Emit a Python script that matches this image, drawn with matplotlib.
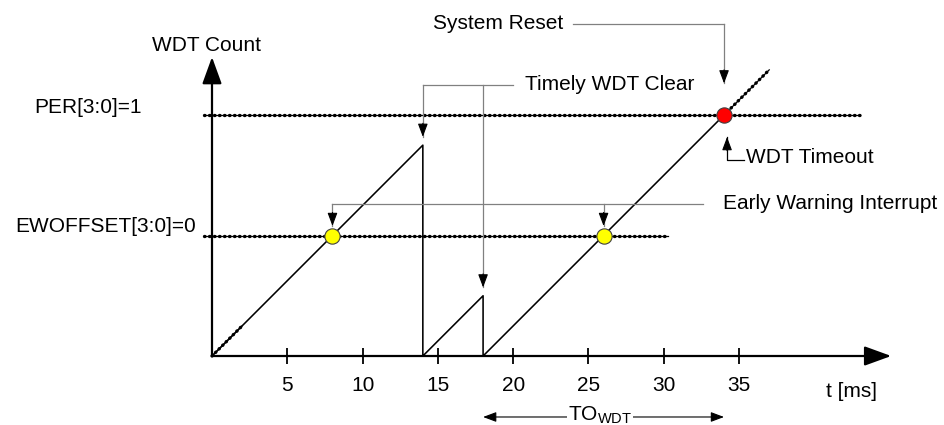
import matplotlib
matplotlib.use("Agg")
import matplotlib.pyplot as plt

# ----------------------------------------------------------------------------
# Data (t in ms, count in "ms worth" of WDT ticks, so the ramp slope is 1)
# ----------------------------------------------------------------------------
saw_t      = [0, 14, 14, 18, 18, 34]
saw_count  = [0, 14, 0, 4, 0, 16]
start_t    = [0, 2]          # thick dotted start of first ramp
start_cnt  = [0, 2]
over_t     = [34, 37]        # count keeps going past the timeout
over_cnt   = [16, 19]

PER_LEVEL  = 16
EW_LEVEL   = 8
per_span   = [-0.5, 43.0]
ew_span    = [-0.5, 30.3]

clear_t    = [14, 18]
clear_peak = [14, 4]
ew_hit_t   = [8, 26]
timeout_t  = 34
to_start   = 18

x_ticks    = [5, 10, 15, 20, 25, 30, 35]
x_end      = 45.1
y_end      = 19.85

# ----------------------------------------------------------------------------
plt.rcParams["font.family"] = ["Liberation Sans", "DejaVu Sans"]
plt.rcParams["mathtext.fontset"] = "custom"
plt.rcParams["mathtext.rm"] = "Liberation Sans"
FS = 15

PX = 15.06      # pixels per ms (both axes, 1:1)
fig = plt.figure(figsize=(9.45, 4.25), dpi=100)
ax = fig.add_axes([0, 0, 1, 1])
ax.set_xlim(-212 / PX, (945 - 212) / PX)
ax.set_ylim(-69 / PX, (425 - 69) / PX)
ax.axis("off")

dots = dict(color="black", lw=2.4, linestyle=(0, (0.15, 1.35)),
            dash_capstyle="round")
lead = dict(color="#808080", lw=0.9)


def dotted(xs, ys):
    # thin line with round beads on it, like the original drawing
    ax.plot(xs, ys, color="black", lw=0.9)
    ax.plot(xs, ys, **dots)


def head(x, y, dx=0.0, dy=0.9, color="black"):
    # small filled arrowhead pointing at (x, y), coming from (x+dx, y+dy)
    ax.annotate("", xy=(x, y), xytext=(x + dx, y + dy),
                arrowprops=dict(arrowstyle="-|>,head_length=0.8,head_width=0.3",
                                color=color, lw=0.8, shrinkA=0, shrinkB=0))


# --- axes with arrows -------------------------------------------------------
big = "-|>,head_length=1.65,head_width=0.6"
ax.annotate("", xy=(x_end, 0), xytext=(0, 0),
            arrowprops=dict(arrowstyle=big, color="black", lw=1.6,
                            shrinkA=0, shrinkB=0))
ax.annotate("", xy=(0, y_end), xytext=(0, 0),
            arrowprops=dict(arrowstyle=big, color="black", lw=1.6,
                            shrinkA=0, shrinkB=0))
ax.vlines(x_ticks, -0.5, 0.5, color="black", lw=1.3)
for t in x_ticks:
    ax.text(t, -1.93, str(t), ha="center", va="center", fontsize=FS)
ax.text(40.8, -2.72, "t [ms]", ha="left", va="baseline", fontsize=FS)
ax.text(-3.98, 20.65, "WDT Count", ha="left", va="center", fontsize=FS)

# --- threshold levels -------------------------------------------------------
dotted(per_span, [PER_LEVEL] * 2)
dotted(ew_span, [EW_LEVEL] * 2)
ax.text(-11.8, 16.47, "PER[3:0]=1", ha="left", va="center", fontsize=FS)
ax.text(-13.08, 8.57, "EWOFFSET[3:0]=0", ha="left", va="center", fontsize=FS)

# --- counter ----------------------------------------------------------------
ax.plot(saw_t, saw_count, color="black", lw=1.15)
dotted(start_t, start_cnt)
dotted(over_t, over_cnt)

# --- timely WDT clear -------------------------------------------------------
y_clr = 18.0
ax.plot([clear_t[0], 20.0], [y_clr, y_clr], **lead)
for t, pk in zip(clear_t, clear_peak):
    ax.plot([t, t], [y_clr, pk + 0.55], **lead)
    head(t, pk + 0.55)
ax.text(20.8, y_clr, "Timely WDT Clear", ha="left", va="center", fontsize=FS)

# --- early warning ----------------------------------------------------------
y_ew = 10.1
ax.plot([ew_hit_t[0], 32.6], [y_ew, y_ew], **lead)
for t in ew_hit_t:
    ax.plot([t, t], [y_ew, EW_LEVEL + 0.63], **lead)
    head(t, EW_LEVEL + 0.63)
ax.text(33.9, y_ew, "Early Warning Interrupt", ha="left", va="center", fontsize=FS)

# --- system reset / timeout -------------------------------------------------
y_sr = 22.05
ax.plot([24.0, timeout_t], [y_sr, y_sr], **lead)
ax.plot([timeout_t, timeout_t], [y_sr, PER_LEVEL + 2.1], **lead)
head(timeout_t, PER_LEVEL + 2.1)
ax.text(23.3, 22.1, "System Reset", ha="right", va="center", fontsize=FS)

ax.plot([35.3, timeout_t + 0.2, timeout_t + 0.2],
        [13.0, 13.0, PER_LEVEL - 1.46], color="black", lw=0.9)
head(timeout_t + 0.2, PER_LEVEL - 1.46, dy=-0.9)
ax.text(35.46, 13.15, "WDT Timeout", ha="left", va="center", fontsize=FS)

# --- markers ----------------------------------------------------------------
ax.plot(ew_hit_t, [EW_LEVEL] * len(ew_hit_t), "o", ms=11, mfc="#ffff00",
        mec="#404040", mew=0.8, zorder=5)
ax.plot([timeout_t], [PER_LEVEL], "o", ms=11, mfc="#ff0000",
        mec="#404040", mew=0.8, zorder=5)

# --- TO_WDT span -------------------------------------------------------------
y_to = -4.05
ax.annotate("", xy=(to_start, y_to), xytext=(24.0, y_to),
            arrowprops=dict(arrowstyle="-|>,head_length=0.8,head_width=0.3",
                            color="black", lw=0.8, shrinkA=0, shrinkB=0))
ax.annotate("", xy=(timeout_t, y_to), xytext=(27.5, y_to),
            arrowprops=dict(arrowstyle="-|>,head_length=0.8,head_width=0.3",
                            color="black", lw=0.8, shrinkA=0, shrinkB=0))
ax.text(25.75, -3.95, r"TO$_{\mathrm{WDT}}$", ha="center", va="center",
        fontsize=FS, bbox=dict(fc="white", ec="none", pad=0.5))

fig.savefig("out.png", dpi=100)
